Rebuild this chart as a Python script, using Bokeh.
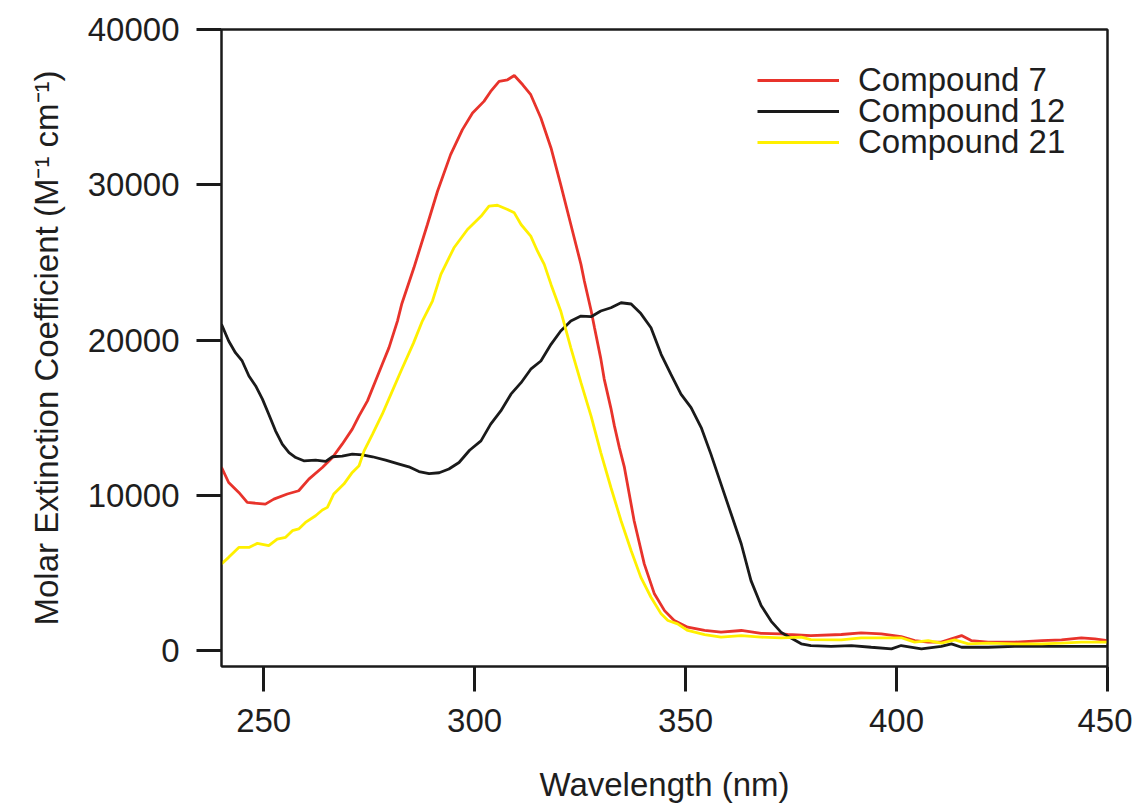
from bokeh.plotting import figure
from bokeh.models import Range1d, Legend, LegendItem, FixedTicker, LinearAxis
from bokeh.embed import file_html
from bokeh.resources import INLINE

# ---- data ----
wl_7 = [240.0, 241.7, 244.1, 246.1, 250.4, 252.4, 255.6, 258.3, 260.7, 263.9, 266.3, 268.6,
        271.0, 272.6, 274.6, 276.5, 278.1, 279.7, 281.7, 282.7, 285.6, 288.8, 291.2, 294.3,
        297.1, 299.5, 302.2, 303.8, 305.8, 307.8, 309.4, 311.4, 313.3, 315.7, 318.1, 320.4,
        322.8, 325.2, 326.0, 327.6, 328.4, 329.9, 330.7, 332.3, 333.1, 334.3, 335.5, 337.8,
        340.2, 342.6, 345.0, 347.3, 350.5, 354.5, 358.4, 363.2, 367.9, 372.6, 374.2, 379.7,
        386.9, 391.6, 396.4, 401.1, 404.3, 407.5, 410.6, 415.4, 417.7, 421.7, 428.0, 434.4,
        439.1, 443.8, 447.0, 450.0]
eps_7 = [11800, 10820, 10180, 9540, 9430, 9750, 10080, 10290, 11040, 11790, 12430, 13290,
         14260, 15110, 16080, 17360, 18440, 19510, 21220, 22300, 24650, 27440, 29580, 31940,
         33550, 34620, 35370, 36010, 36660, 36760, 37040, 36440, 35800, 34300, 32370, 30010,
         27440, 24870, 23800, 21900, 20800, 18800, 17500, 15600, 14500, 13070, 11790, 8360,
         5580, 3650, 2570, 1930, 1500, 1290, 1180, 1290, 1110, 1070, 1030, 960,
         1030, 1140, 1070, 900, 640, 540, 540, 960, 640, 540, 540, 640,
         690, 820, 750, 640]

wl_12 = [240.0, 241.7, 243.3, 244.9, 246.5, 248.1, 249.7, 251.2, 252.8, 254.4, 256.0, 257.6,
         259.5, 262.3, 264.7, 266.3, 268.6, 271.0, 273.4, 275.8, 278.9, 282.1, 284.4, 286.8,
         289.2, 291.6, 293.9, 296.3, 298.8, 301.5, 303.8, 306.2, 308.6, 311.0, 313.3, 315.7,
         318.1, 320.4, 322.8, 325.2, 327.6, 329.9, 332.3, 334.7, 337.1, 339.4, 341.8, 344.2,
         346.5, 348.9, 351.3, 353.7, 356.0, 358.4, 360.8, 363.2, 365.5, 367.9, 370.3, 372.6,
         375.0, 377.4, 379.7, 384.5, 389.3, 394.0, 398.8, 401.1, 405.9, 410.6, 413.0, 415.4,
         421.7, 428.0, 434.4, 439.1, 443.8, 450.0]
eps_12 = [21010, 19940, 19180, 18650, 17680, 17040, 16190, 15220, 14150, 13290, 12750, 12430,
          12220, 12260, 12180, 12480, 12520, 12650, 12600, 12480, 12260, 12010, 11830, 11530,
          11400, 11450, 11690, 12110, 12900, 13500, 14580, 15430, 16510, 17250, 18120, 18650,
          19720, 20580, 21220, 21540, 21500, 21870, 22080, 22400, 22320, 21700, 20790, 19080,
          17800, 16510, 15650, 14360, 12650, 10720, 8790, 6860, 4500, 2900, 1880, 1180,
          800, 430, 320, 260, 320, 210, 110, 320, 110, 260, 430, 210,
          210, 260, 260, 260, 260, 260]

wl_21 = [240.0, 241.7, 244.1, 246.5, 248.5, 251.2, 253.2, 255.2, 256.8, 258.3, 259.9, 262.3,
         263.9, 265.1, 266.6, 269.0, 271.0, 272.6, 273.8, 275.8, 278.1, 280.5, 282.7, 285.5,
         287.6, 290.0, 292.0, 295.1, 298.3, 301.5, 303.4, 305.4, 307.8, 309.4, 311.0, 313.3,
         314.9, 316.5, 318.1, 320.4, 322.8, 325.2, 327.6, 329.9, 332.3, 334.7, 337.1, 339.4,
         341.8, 344.2, 345.8, 348.1, 350.5, 354.5, 358.4, 363.2, 367.9, 372.6, 377.4, 379.7,
         386.9, 391.6, 396.4, 401.1, 404.3, 407.5, 410.6, 413.8, 417.0, 421.7, 428.0, 434.4,
         439.1, 443.8, 450.0]
eps_21 = [5570, 6000, 6640, 6640, 6900, 6750, 7180, 7290, 7720, 7830, 8250, 8680,
          9050, 9220, 10080, 10720, 11470, 11900, 12860, 13940, 15220, 16720, 18100, 19800,
          21220, 22510, 24230, 25940, 27120, 27970, 28620, 28680, 28410, 28190, 27440, 26690,
          25720, 24870, 23580, 21870, 19500, 17250, 15100, 12750, 10500, 8360, 6430, 4710,
          3430, 2360, 1930, 1720, 1290, 1030, 860, 960, 860, 820, 860, 700,
          690, 820, 820, 820, 540, 640, 470, 690, 430, 470, 430, 430,
          470, 540, 540]

labels = ["Compound 7", "Compound 12", "Compound 21"]
colors = ["#e8332b", "#1a1a1a", "#fff000"]
x_ticks = [250, 300, 350, 400, 450]
y_ticks = [0, 10000, 20000, 30000, 40000]

FONT = "Liberation Sans"
TXT = "#1e1e1e"
FRAME = "#1a1a1a"

p = figure(frame_width=886, frame_height=637, output_backend="svg", toolbar_location=None,
           x_range=Range1d(240, 450), y_range=Range1d(-1030, 40000),
           min_border_left=221, min_border_right=25, min_border_top=29, min_border_bottom=100)

p.background_fill_color = "white"
p.border_fill_color = "white"
p.grid.visible = False
p.outline_line_color = FRAME
p.outline_line_width = 2

r7 = p.line(wl_7, eps_7, line_color=colors[0], line_width=2.8)
r12 = p.line(wl_12, eps_12, line_color=colors[1], line_width=2.8)
r21 = p.line(wl_21, eps_21, line_color=colors[2], line_width=2.8)

for ax in (p.xaxis[0], p.yaxis[0]):
    ax.axis_line_color = FRAME
    ax.axis_line_width = 2
    ax.major_tick_line_color = FRAME
    ax.major_tick_line_width = 3
    ax.major_tick_out = 25
    ax.major_tick_in = 0
    ax.minor_tick_line_color = None
    ax.major_label_text_font = FONT
    ax.major_label_text_font_size = "33px"
    ax.major_label_text_color = TXT
    ax.major_label_standoff = 17
    ax.axis_label_text_font = FONT
    ax.axis_label_text_font_size = "33px"
    ax.axis_label_text_font_style = "normal"
    ax.axis_label_text_color = TXT

p.xaxis[0].axis_label_standoff = 31
p.yaxis[0].axis_label_standoff = 20

p.xaxis[0].ticker = FixedTicker(ticks=x_ticks)
p.yaxis[0].ticker = FixedTicker(ticks=y_ticks)
p.xaxis[0].axis_label = "Wavelength (nm)"
p.yaxis[0].axis_label = "Molar Extinction Coefficient (M\u207b\u00b9 cm\u207b\u00b9)"

# plain frame lines on top and right
for side in ("above", "right"):
    a = LinearAxis(ticker=FixedTicker(ticks=[]), axis_line_color=FRAME, axis_line_width=2,
                   major_tick_line_color=None, minor_tick_line_color=None,
                   major_label_text_font_size="0px")
    p.add_layout(a, side)

# one legend entry per row so the row pitch can match the reference
for lab, rend, ybot in zip(labels, [r7, r12, r21], [567, 536, 505]):
    lg = Legend(items=[LegendItem(label=lab, renderers=[rend])],
                location=(536, ybot), orientation="vertical",
                glyph_width=82, label_standoff=19, padding=0, margin=0,
                border_line_color=None, background_fill_alpha=0,
                label_text_font=FONT, label_text_font_size="33px", label_text_color=TXT)
    p.add_layout(lg)

open("out.html", "w").write(file_html(p, INLINE))
